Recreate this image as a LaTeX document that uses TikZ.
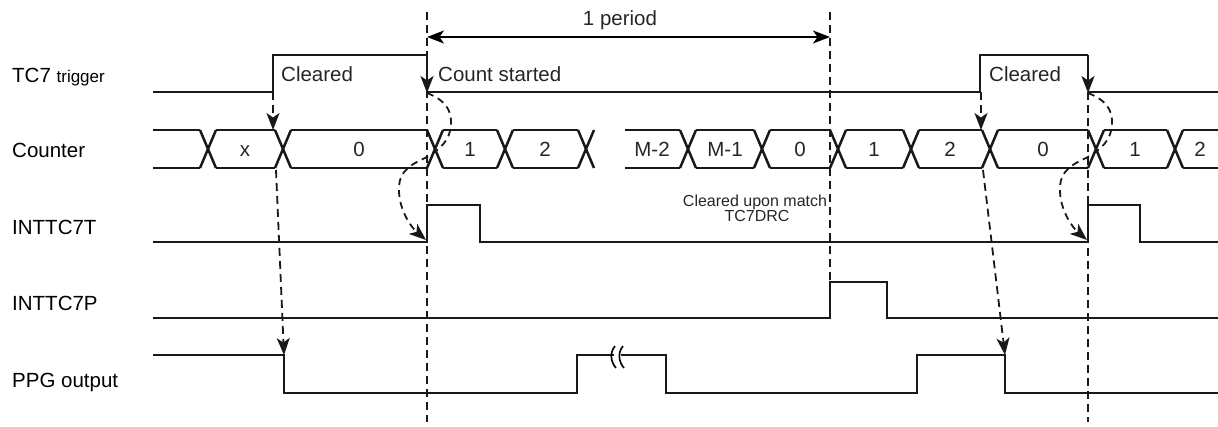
\documentclass[tikz,border=0pt]{standalone}
\usepackage{fontspec}
\setmainfont{Liberation Sans}
\usetikzlibrary{arrows.meta}
\begin{document}
\begin{tikzpicture}[x=1pt,y=-1pt,
  sig/.style={line width=2.5pt, line join=miter, color=black!90},
  dsh/.style={line width=1.8pt, dash pattern=on 8pt off 5pt, color=black!90},
  tip/.style={-{Stealth[length=17pt,width=13pt,inset=4.5pt]}},
  lbl/.style={font=\fontsize{20.5}{24}\selectfont, anchor=base west, inner sep=0},
  val/.style={font=\fontsize{20.5}{24}\selectfont, anchor=base, inner sep=0, text=black!85},
  note/.style={font=\fontsize{16}{18}\selectfont, anchor=base, inner sep=0, text=black!85},
]
\useasboundingbox (0,0) rectangle (1218,426);

% ---- row labels
\node[lbl] (ltc) at (12,82) {TC7 {\fontsize{17}{20}\selectfont trigger}};
\node[lbl] (lcnt) at (12,157) {Counter};
\node[lbl] (lintt) at (12,234) {INTTC7T};
\node[lbl] (lintp) at (12,310) {INTTC7P};
\node[lbl] (lppg) at (12,387) {PPG output};

% ---- vertical dashed reference lines
\draw[dsh] (427,12) -- (427,422);
\draw[dsh] (830,12) -- (830,282);
\draw[dsh] (1088,92) -- (1088,422);

% ---- 1 period
\coordinate (pa) at (427,37);
\coordinate (pb) at (830,37);
\draw[line width=1.8pt, {Stealth[length=17pt,width=13pt,inset=4.5pt]}-{Stealth[length=17pt,width=13pt,inset=4.5pt]}] (pa) -- (pb);
\node[val] (per) at (620,25) {1 period};

% ---- TC7 trigger
\draw[sig] (153,92) -- (273,92) -- (273,55) -- (427,55);
\draw[sig,tip] (427,55) -- (427,93);
\draw[sig] (427,92) -- (980,92) -- (980,55) -- (1088,55);
\draw[sig,tip] (1088,55) -- (1088,93);
\draw[sig] (1088,92) -- (1218,92);
\node[lbl, text=black!85] (cl1) at (281,81) {Cleared};
\node[lbl, text=black!85] (cs) at (438,81) {Count started};
\node[lbl, text=black!85] (cl2) at (989,81) {Cleared};

% ---- Counter bus
\foreach \a in {200,275,427,497,578,680,754,830,903,982,1088,1167}{
  \draw[sig] (\a,130) -- (\a+16,168);
  \draw[sig] (\a,168) -- (\a+16,130);
}
\foreach \l/\r in {153/200,216/275,291/427,443/497,513/578,625/680,696/754,770/830,846/903,919/982,998/1088,1104/1167,1183/1218}{
  \draw[sig] (\l,130) -- (\r,130);
  \draw[sig] (\l,168) -- (\r,168);
}
\node[val] (v1) at (245,156) {x};
\node[val] (v2) at (359,156) {0};
\node[val] (v3) at (470,156) {1};
\node[val] (v4) at (545,156) {2};
\node[val] (v5) at (652,156) {M-2};
\node[val] (v6) at (725,156) {M-1};
\node[val] (v7) at (800,156) {0};
\node[val] (v8) at (874,156) {1};
\node[val] (v9) at (950,156) {2};
\node[val] (v10) at (1043,156) {0};
\node[val] (v11) at (1135,156) {1};
\node[val] (v12) at (1200,156) {2};

% ---- INTTC7T
\draw[sig] (153,242) -- (427,242) -- (427,205) -- (480,205) -- (480,242) -- (1088,242) -- (1088,205) -- (1140,205) -- (1140,242) -- (1218,242);
\node[note] (n1) at (755,206) {Cleared upon match};
\node[note] (n2) at (757,221) {TC7DRC};

% ---- INTTC7P
\draw[sig] (153,318) -- (830,318) -- (830,282) -- (887,282) -- (887,318) -- (1218,318);

% ---- PPG output
\draw[sig] (153,355) -- (284,355) -- (284,393) -- (577,393) -- (577,355) -- (614,355);
\draw[sig] (621,355) -- (666,355) -- (666,393) -- (917,393) -- (917,355) -- (1005,355) -- (1005,393) -- (1218,393);
\draw[line width=1.6pt] (615,346) .. controls (610,352) and (610,361) .. (616,368);
\draw[line width=1.6pt] (623,346) .. controls (618,352) and (618,361) .. (624,368);

% ---- causal arrows
\coordinate (t1) at (273,92);  \coordinate (c1) at (273,130);
\coordinate (t2) at (981,92);  \coordinate (c2) at (981,130);
\coordinate (b1) at (276,170); \coordinate (p1) at (284,355);
\coordinate (b2) at (983,170); \coordinate (p2) at (1005,355);
\draw[dsh,tip] (t1) -- (c1);
\draw[dsh,tip] (t2) -- (c2);
\draw[dsh,tip] (b1) -- (p1);
\draw[dsh,tip] (b2) -- (p2);

\foreach \dx in {0,661}{
  \begin{scope}[xshift=\dx]
  \draw[dsh,tip,dash pattern=on 7pt off 5pt] (427,93) .. controls (445,100) and (452,110) .. (451,125)
     .. controls (450,140) and (440,150) .. (425,158)
     .. controls (405,167) and (398,175) .. (399,192)
     .. controls (400,212) and (412,228) .. (426,240);
  \end{scope}
}
\end{tikzpicture}
\end{document}
